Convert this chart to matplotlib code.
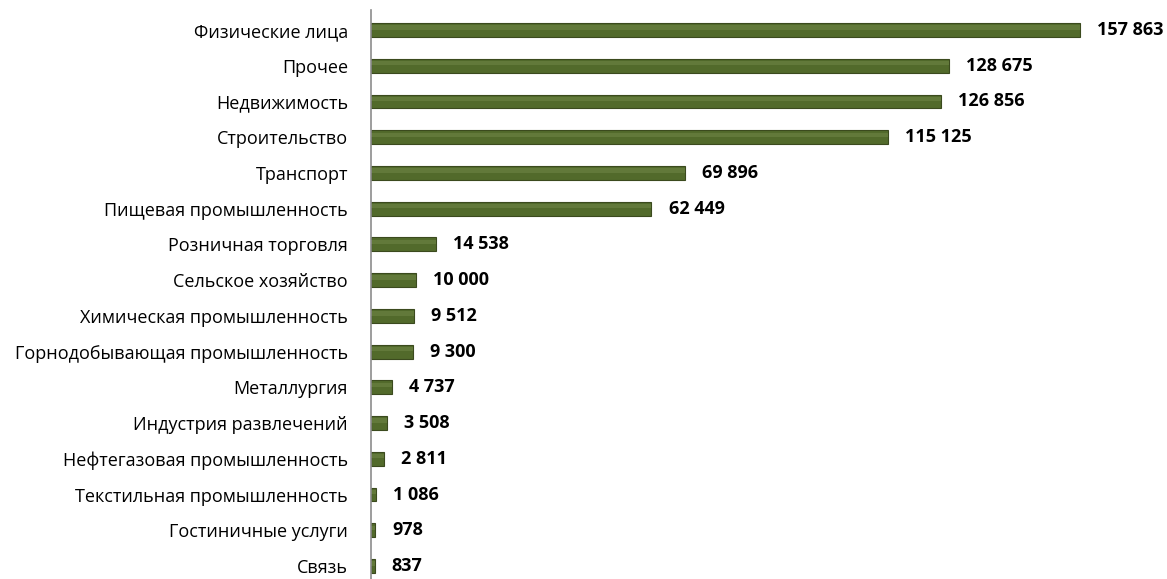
import matplotlib.pyplot as plt

categories = ['Физические лица', 'Прочее', 'Недвижимость', 'Строительство', 'Транспорт',
              'Пищевая промышленность', 'Розничная торговля', 'Сельское хозяйство',
              'Химическая промышленность', 'Горнодобывающая промышленность', 'Металлургия',
              'Индустрия развлечений', 'Нефтегазовая промышленность',
              'Текстильная промышленность', 'Гостиничные услуги', 'Связь']
values = [157863, 128675, 126856, 115125, 69896, 62449, 14538, 10000,
          9512, 9300, 4737, 3508, 2811, 1086, 978, 837]
value_labels = ['157 863', '128 675', '126 856', '115 125', '69 896', '62 449', '14 538', '10 000',
                '9 512', '9 300', '4 737', '3 508', '2 811', '1 086', '978', '837']

plt.rcParams['font.family'] = ['Open Sans', 'DejaVu Sans']

fig = plt.figure(figsize=(11.67, 5.79), dpi=100)
ax = fig.add_axes([371 / 1167, 0, (1160 - 371) / 1167, 569 / 579])

y = list(range(len(categories)))
ax.barh(y, values, height=0.39, color='#526a2b', edgecolor='#3b4a1e', linewidth=0.8)
# lighter highlight along the upper half of each bar
ax.barh([yi - 0.07 for yi in y], values, height=0.12, color='#62793a', linewidth=0)

for yi, v, lab in zip(y, values, value_labels):
    ax.text(v + 3800, yi, lab, va='center', ha='left', fontsize=13, fontweight='bold', color='black')

ax.set_yticks(y)
ax.set_yticklabels(categories, fontsize=13)
ax.tick_params(axis='y', length=0, pad=16.5)
ax.set_xticks([])
ax.set_xlim(0, 175670)
ax.set_ylim(15.364, -0.56)

for s in ['top', 'right', 'bottom']:
    ax.spines[s].set_visible(False)
ax.spines['left'].set_color('#8c8c8c')
ax.spines['left'].set_linewidth(1.2)

fig.savefig('out.png', dpi=100)
